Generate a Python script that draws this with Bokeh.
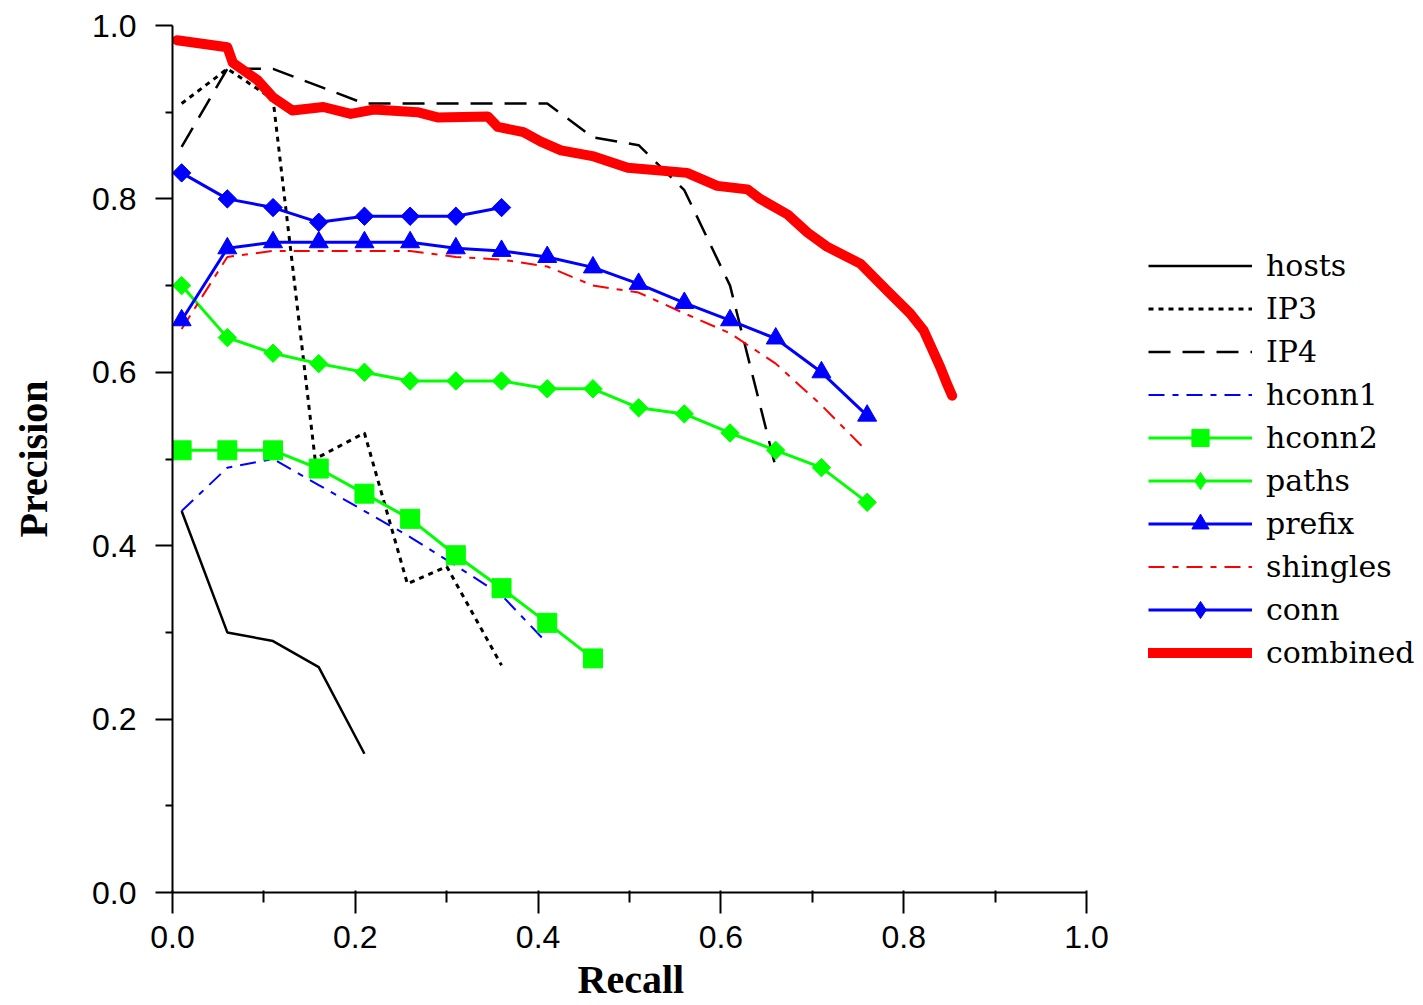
from bokeh.plotting import figure
from bokeh.models import FixedTicker, PrintfTickFormatter, Legend, LegendItem, Title
from bokeh.embed import file_html
from bokeh.resources import INLINE
import numpy as np

# ---------------- data ----------------
hosts_x = [0.01, 0.06, 0.11, 0.16, 0.21]
hosts_y = [0.44, 0.30, 0.29, 0.26, 0.16]

ip3_x = [0.01, 0.06, 0.11, 0.156, 0.21, 0.257, 0.30, 0.36]
ip3_y = [0.91, 0.95, 0.915, 0.50, 0.53, 0.356, 0.376, 0.262]

ip4_x = [0.01, 0.06, 0.11, 0.16, 0.21, 0.26, 0.31, 0.36, 0.41, 0.46, 0.51, 0.56, 0.61, 0.66]
ip4_y = [0.86, 0.95, 0.95, 0.93, 0.91, 0.91, 0.91, 0.91, 0.91, 0.871, 0.862, 0.81, 0.70, 0.49]

hconn1_x = [0.01, 0.06, 0.11, 0.16, 0.21, 0.26, 0.31, 0.36, 0.405]
hconn1_y = [0.44, 0.49, 0.50, 0.47, 0.44, 0.41, 0.377, 0.343, 0.293]

hconn2_x = [0.01, 0.06, 0.11, 0.16, 0.21, 0.26, 0.31, 0.36, 0.41, 0.46]
hconn2_y = [0.51, 0.51, 0.51, 0.489, 0.46, 0.431, 0.389, 0.351, 0.311, 0.27]

paths_x = [0.01, 0.06, 0.11, 0.16, 0.21, 0.26, 0.31, 0.36, 0.41, 0.46, 0.51, 0.56, 0.61, 0.66, 0.71, 0.76]
paths_y = [0.70, 0.64, 0.622, 0.61, 0.60, 0.59, 0.59, 0.59, 0.581, 0.581, 0.559, 0.552, 0.53, 0.51, 0.49, 0.45]

prefix_x = [0.01, 0.06, 0.11, 0.16, 0.21, 0.26, 0.31, 0.36, 0.41, 0.46, 0.51, 0.56, 0.61, 0.66, 0.71, 0.76]
prefix_y = [0.66, 0.743, 0.75, 0.75, 0.75, 0.75, 0.743, 0.74, 0.733, 0.721, 0.702, 0.68, 0.66, 0.639, 0.60, 0.55]

shingles_x = [0.01, 0.06, 0.11, 0.16, 0.21, 0.26, 0.31, 0.36, 0.41, 0.46, 0.51, 0.56, 0.61, 0.66, 0.71, 0.755]
shingles_y = [0.65, 0.733, 0.74, 0.74, 0.74, 0.74, 0.733, 0.73, 0.722, 0.70, 0.692, 0.668, 0.645, 0.61, 0.562, 0.514]

conn_x = [0.01, 0.06, 0.11, 0.16, 0.21, 0.26, 0.31, 0.36]
conn_y = [0.83, 0.80, 0.79, 0.773, 0.78, 0.78, 0.78, 0.79]

combined_x = [0.005, 0.06, 0.066, 0.093, 0.11, 0.131, 0.165, 0.195, 0.22, 0.268, 0.29, 0.345,
              0.356, 0.384, 0.403, 0.425, 0.461, 0.498, 0.563, 0.596, 0.629, 0.643, 0.673,
              0.695, 0.716, 0.753, 0.782, 0.807, 0.822, 0.840, 0.848, 0.853]
combined_y = [0.983, 0.975, 0.957, 0.937, 0.917, 0.902, 0.906, 0.898, 0.903, 0.900, 0.894, 0.895,
              0.883, 0.877, 0.866, 0.856, 0.849, 0.836, 0.830, 0.815, 0.811, 0.800, 0.782,
              0.761, 0.745, 0.725, 0.694, 0.668, 0.648, 0.606, 0.585, 0.573]

major_ticks = [0.0, 0.2, 0.4, 0.6, 0.8, 1.0]
minor_ticks = [0.1, 0.3, 0.5, 0.7, 0.9]

GREEN = "#00FF00"
BLUE = "#0000FF"
RED = "#FF0000"

# ---------------- figure ----------------
# The frame runs across the whole width so the legend can sit to the right
# of the axes; the x axis itself is bounded to 0..1.
W, H = 1420, 1005
FRAME_L, FRAME_T, FRAME_B = 172, 25, 892
PX_PER_UNIT = 914.0
x_end = (W - FRAME_L) / PX_PER_UNIT

p = figure(width=W, height=H, x_range=(0, x_end), y_range=(0, 1),
           output_backend="svg", toolbar_location=None,
           min_border_left=FRAME_L, min_border_top=FRAME_T,
           min_border_bottom=H - FRAME_B, min_border_right=0)
p.grid.visible = False
p.outline_line_color = None
p.background_fill_color = "white"
p.border_fill_color = "white"

for ax in (p.xaxis[0], p.yaxis[0]):
    ax.ticker = FixedTicker(ticks=major_ticks, minor_ticks=minor_ticks)
    ax.formatter = PrintfTickFormatter(format="%.1f")
    ax.bounds = (0, 1)
    ax.axis_line_width = 2
    ax.axis_line_color = "black"
    ax.major_tick_line_width = 2
    ax.minor_tick_line_width = 2
    ax.major_tick_line_color = "black"
    ax.minor_tick_line_color = "black"
    ax.major_label_text_font = "Liberation Sans"
    ax.major_label_text_font_size = "32px"
    ax.major_label_text_color = "black"
    ax.axis_label_text_font = "Liberation Serif"
    ax.axis_label_text_font_style = "bold"
    ax.axis_label_text_font_size = "40px"
    ax.axis_label_text_color = "black"

xa = p.xaxis[0]
xa.major_tick_in = 2
xa.major_tick_out = 21
xa.minor_tick_in = 2
xa.minor_tick_out = 10
xa.major_label_standoff = 12

ya = p.yaxis[0]
ya.axis_label = "Precision"
ya.major_tick_in = 0
ya.major_tick_out = 17
ya.minor_tick_in = 0
ya.minor_tick_out = 7
ya.major_label_standoff = 19
ya.axis_label_standoff = 33

# x-axis title, centred under the 0..1 span of the axis
x_title = Title(text="Recall", align="left", offset=577 - FRAME_L, standoff=8,
                text_font="Liberation Serif", text_font_style="bold",
                text_font_size="40px", text_color="black")
p.add_layout(x_title, "below")

# ---------------- series ----------------
r_hosts = p.line(hosts_x, hosts_y, line_color="black", line_width=2.5)
r_ip3 = p.line(ip3_x, ip3_y, line_color="black", line_width=3, line_dash="5 5")
r_ip4 = p.line(ip4_x, ip4_y, line_color="black", line_width=2.5, line_dash="22 12")
r_hc1 = p.line(hconn1_x, hconn1_y, line_color=BLUE, line_width=2, line_dash="16 8 6 8")
r_hc2_l = p.line(hconn2_x, hconn2_y, line_color=GREEN, line_width=3)
r_hc2_m = p.scatter(hconn2_x, hconn2_y, marker="square", size=19, fill_color=GREEN, line_color=GREEN)
r_pa_l = p.line(paths_x, paths_y, line_color=GREEN, line_width=3)
# diamond key (used by the legend) lies fully under the rotated squares
r_pa_key = p.scatter(paths_x, paths_y, marker="diamond", size=17, fill_color=GREEN, line_color=GREEN)
r_pa_m = p.scatter(paths_x, paths_y, marker="square", angle=np.pi / 4, size=13,
                   fill_color=GREEN, line_color=GREEN)
r_sh = p.line(shingles_x, shingles_y, line_color=RED, line_width=2, line_dash="16 8 6 8")
r_pr_l = p.line(prefix_x, prefix_y, line_color=BLUE, line_width=3)
r_pr_m = p.scatter(prefix_x, prefix_y, marker="triangle", size=19, fill_color=BLUE, line_color=BLUE)
r_co_l = p.line(conn_x, conn_y, line_color=BLUE, line_width=3)
r_co_key = p.scatter(conn_x, conn_y, marker="diamond", size=17, fill_color=BLUE, line_color=BLUE)
r_co_m = p.scatter(conn_x, conn_y, marker="square", angle=np.pi / 4, size=13,
                   fill_color=BLUE, line_color=BLUE)
r_cb_k = p.line(combined_x, combined_y, line_color="black", line_width=1.5)
r_cb = p.line(combined_x, combined_y, line_color=RED, line_width=10,
              line_cap="round", line_join="round")

items = [
    LegendItem(label="hosts", renderers=[r_hosts]),
    LegendItem(label="IP3", renderers=[r_ip3]),
    LegendItem(label="IP4", renderers=[r_ip4]),
    LegendItem(label="hconn1", renderers=[r_hc1]),
    LegendItem(label="hconn2", renderers=[r_hc2_l, r_hc2_m]),
    LegendItem(label="paths", renderers=[r_pa_l, r_pa_key]),
    LegendItem(label="prefix", renderers=[r_pr_l, r_pr_m]),
    LegendItem(label="shingles", renderers=[r_sh]),
    LegendItem(label="conn", renderers=[r_co_l, r_co_key]),
    LegendItem(label="combined", renderers=[r_cb_k, r_cb]),
]
legend = Legend(items=items, location=(976, 218))
legend.padding = 0
legend.margin = 0
legend.border_line_color = None
legend.background_fill_alpha = 0
legend.glyph_width = 104
legend.glyph_height = 43
legend.label_height = 43
legend.spacing = 0
legend.label_standoff = 14
legend.label_text_font = "DejaVu Serif"
legend.label_text_font_size = "30px"
legend.label_text_color = "black"
p.add_layout(legend, "center")

open("out.html", "w").write(file_html(p, INLINE))
